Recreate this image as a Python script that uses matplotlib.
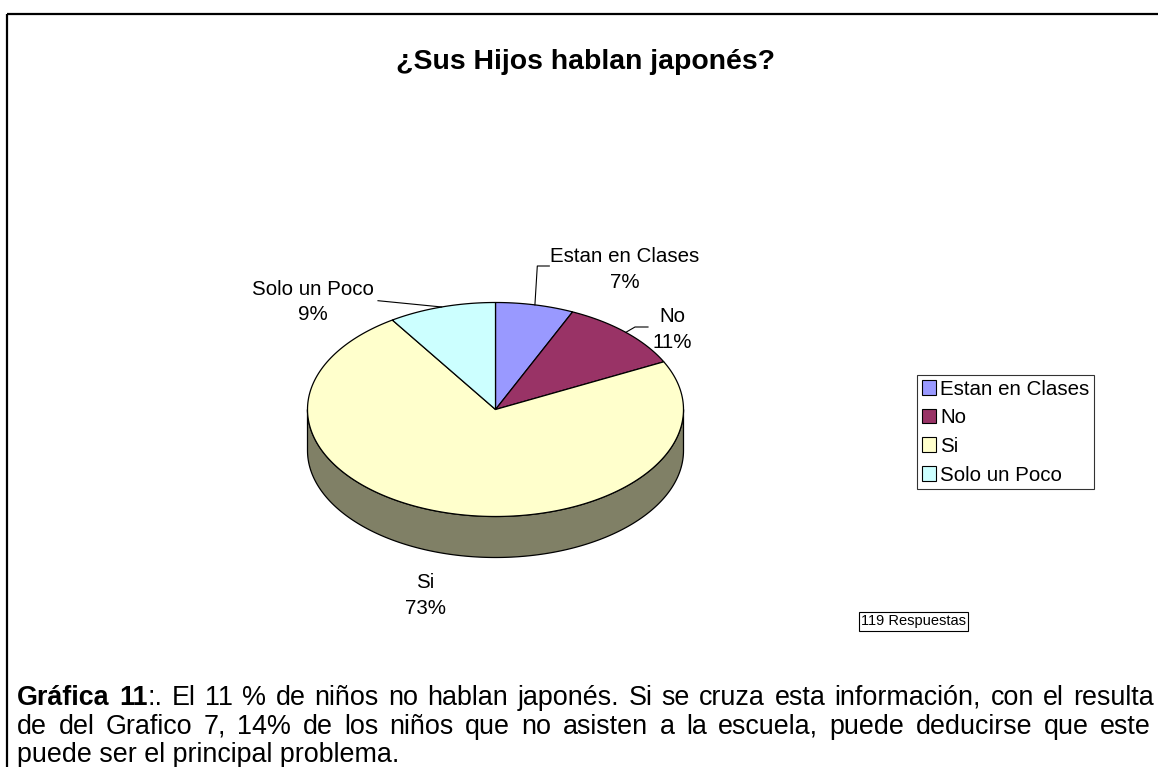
import numpy as np
import matplotlib
matplotlib.use('Agg')
import matplotlib.pyplot as plt
from matplotlib.patches import Polygon, Rectangle, Patch
from matplotlib.colors import to_rgb

# Data (119 answers)
categories = ['Estan en Clases', 'No', 'Si', 'Solo un Poco']
counts = [8, 13, 87, 11]
pct_labels = ['7%', '11%', '73%', '9%']
colors = ['#9999FF', '#993366', '#FFFFCC', '#CCFFFF']

title = '¿Sus Hijos hablan japonés?'
note = '119 Respuestas'
caption_line1 = [[('Gráfica', 'bold')], [('11', 'bold'), (':.', 'normal')],
                 'El', '11', '%', 'de', 'niños', 'no', 'hablan', 'japonés.', 'Si', 'se',
                 'cruza', 'esta', 'información,', 'con', 'el', 'resulta']
caption_line2 = ('de del Grafico 7, 14% de los niños que no asisten a la escuela, '
                 'puede deducirse que este').split()
caption_line3 = 'puede ser el principal problema.'

plt.rcParams['font.family'] = ['Liberation Sans', 'DejaVu Sans']

W, H = 1158, 767
fig = plt.figure(figsize=(W / 100, H / 100), dpi=100)
ax = fig.add_axes([0, 0, 1, 1])
ax.set_xlim(0, W)
ax.set_ylim(H, 0)
ax.axis('off')

# outer frame
ax.add_patch(Rectangle((7, 14), W, H, fill=False, lw=1.6, ec='black'))

# 3d pie geometry
cx, cy, rx, ry, depth = 495.5, 409.5, 188, 107, 41


def ell(theta):
    t = np.radians(theta)
    return cx + rx * np.sin(t), cy - ry * np.cos(t)


total = sum(counts)
edges = np.concatenate([[0], np.cumsum(counts)]) / total * 360

# side walls (front half only)
for i, c in enumerate(colors):
    a, b = max(edges[i], 90), min(edges[i + 1], 270)
    if a >= b:
        continue
    th = np.linspace(a, b, 200)
    xs, ys = ell(th)
    pts = list(zip(xs, ys)) + list(zip(xs[::-1], ys[::-1] + depth))
    dark = tuple(v * 0.5 for v in to_rgb(c))
    ax.add_patch(Polygon(pts, closed=True, fc=dark, ec='black', lw=0.9))

# top
for i, c in enumerate(colors):
    th = np.linspace(edges[i], edges[i + 1], 200)
    xs, ys = ell(th)
    pts = [(cx, cy)] + list(zip(xs, ys))
    ax.add_patch(Polygon(pts, closed=True, fc=c, ec='black', lw=0.9))

# data labels: (center x, first baseline, leader elbow points)
label_pos = {
    'Estan en Clases': (625, 262, [(537.3, 266), (549.3, 266)]),
    'No': (672, 322, [(635, 327), (648, 327)]),
    'Si': (425, 588, None),
    'Solo un Poco': (313, 295, [(378, 300.7)]),
}
lab_fs = 14.8
for i, cat in enumerate(categories):
    x, y, elbow = label_pos[cat]
    ax.text(x, y, cat, ha='center', va='baseline', fontsize=lab_fs)
    ax.text(x, y + 25.5, pct_labels[i], ha='center', va='baseline', fontsize=lab_fs)
    if elbow:
        mid = (edges[i] + edges[i + 1]) / 2
        ax_, ay_ = ell(mid)
        px = [ax_] + [p[0] for p in elbow]
        py = [ay_] + [p[1] for p in elbow]
        ax.plot(px, py, color='black', lw=0.8)

# title
ax.text(586, 69, title, ha='center', va='baseline', fontsize=20.4, fontweight='bold')

# legend
handles = [Patch(fc=c, ec='black', lw=0.8) for c in colors]
leg = ax.legend(handles, categories, loc='upper left',
                bbox_to_anchor=(917 / W, 1 - 375 / H), fontsize=14.8,
                frameon=True, fancybox=False, shadow=False,
                handlelength=0.7, handleheight=0.7, handletextpad=0.2,
                labelspacing=0.47, borderpad=0.22, borderaxespad=0)
leg.get_frame().set_edgecolor('black')
leg.get_frame().set_linewidth(0.8)

# responses box
ax.text(913.5, 621.5, note, ha='center', va='center', fontsize=10.5,
        bbox=dict(boxstyle='square,pad=0.15', fc='white', ec='black', lw=0.8))

# caption (justified lines)
cap_fs = 19.4
fig.canvas.draw()
rend = fig.canvas.get_renderer()


def seg_width(s, weight):
    t = ax.text(0, 0, s, fontsize=cap_fs, fontweight=weight)
    w = t.get_window_extent(rend).width
    t.remove()
    return w


def justify(words, x0, x1, base):
    words = [w if isinstance(w, list) else [(w, 'normal')] for w in words]
    widths = [sum(seg_width(s, wt) for s, wt in w) for w in words]
    gap = (x1 - x0 - sum(widths)) / (len(words) - 1)
    x = x0
    for w, wd in zip(words, widths):
        xx = x
        for s, wt in w:
            ax.text(xx, base, s, fontsize=cap_fs, fontweight=wt, ha='left', va='baseline')
            xx += seg_width(s, wt)
        x += wd + gap


justify(caption_line1, 17, 1154, 705)
justify(caption_line2, 17, 1151, 733.5)
ax.text(17, 762, caption_line3, fontsize=cap_fs, ha='left', va='baseline')

fig.savefig('out.png', dpi=100)
